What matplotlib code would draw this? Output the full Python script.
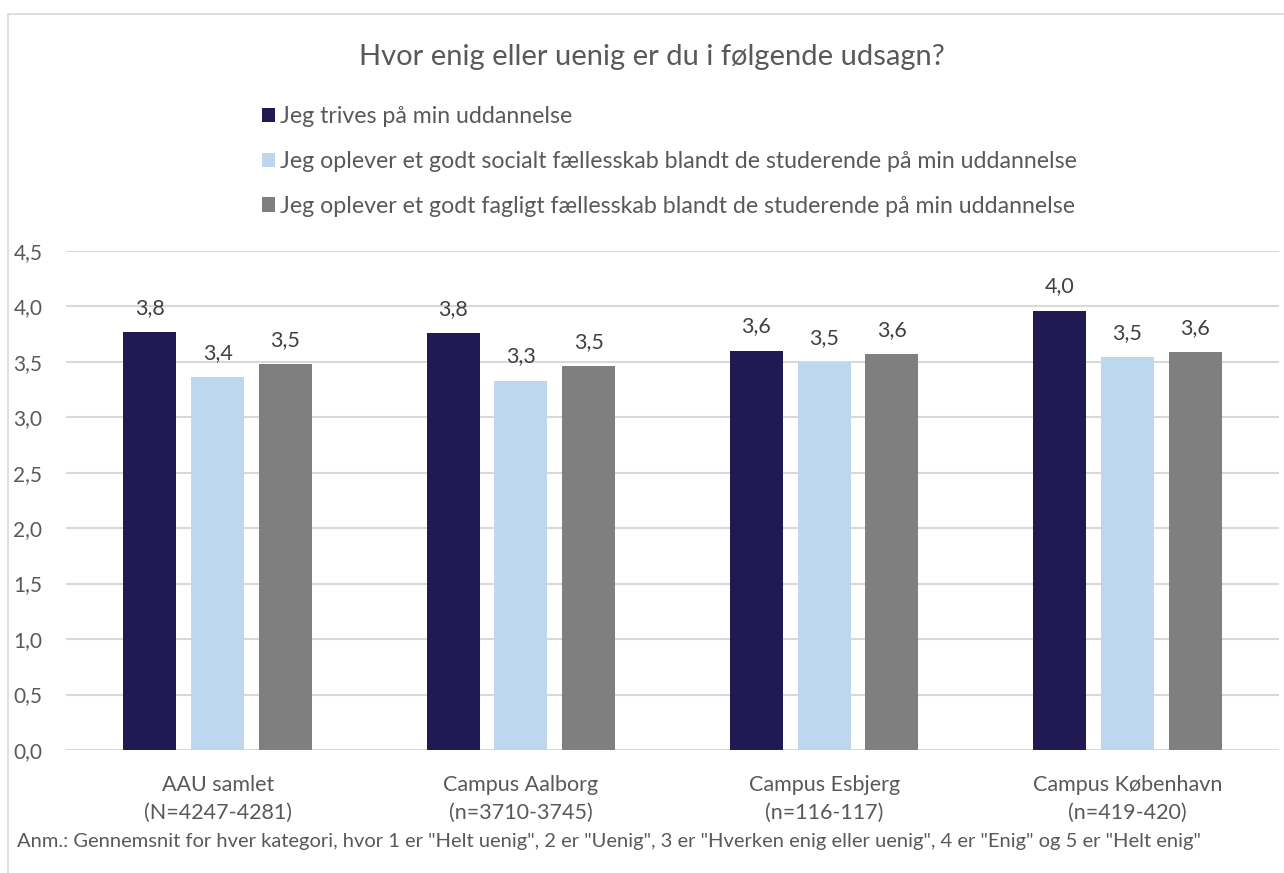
import matplotlib
matplotlib.use("Agg")
import matplotlib.pyplot as plt
from matplotlib.patches import Rectangle
import numpy as np

categories = ["AAU samlet\n(N=4247-4281)", "Campus Aalborg\n(n=3710-3745)",
              "Campus Esbjerg\n(n=116-117)", "Campus København\n(n=419-420)"]
series_names = ["Jeg trives på min uddannelse",
                "Jeg oplever et godt socialt fællesskab blandt de studerende på min uddannelse",
                "Jeg oplever et godt fagligt fællesskab blandt de studerende på min uddannelse"]
trives = [3.77, 3.76, 3.60, 3.96]
socialt = [3.36, 3.33, 3.50, 3.54]
fagligt = [3.48, 3.46, 3.57, 3.59]
yticks = [0.0, 0.5, 1.0, 1.5, 2.0, 2.5, 3.0, 3.5, 4.0, 4.5]
title = "Hvor enig eller uenig er du i følgende udsagn?"
note = ('Anm.: Gennemsnit for hver kategori, hvor 1 er "Helt uenig", 2 er "Uenig", '
        '3 er "Hverken enig eller uenig", 4 er "Enig" og 5 er "Helt enig"')

colors = ["#211A52", "#BDD7EE", "#7F7F7F"]
FONT = ["Lato", "DejaVu Sans"]
plt.rcParams['font.family'] = FONT

W, H = 1284, 873
fig = plt.figure(figsize=(W / 100, H / 100), dpi=100)
fig.patch.set_facecolor("white")

# border (left/top visible)
fig.add_artist(Rectangle((8 / W, -0.2), 2.0, (H - 14) / H + 0.2, transform=fig.transFigure,
                         fill=False, edgecolor="#D9D9D9", linewidth=1.2))

ax_left, ax_right = 66 / W, 1279 / W
ax_bottom, ax_top = (H - 750) / H, (H - 250.7) / H
ax = fig.add_axes([ax_left, ax_bottom, ax_right - ax_left, ax_top - ax_bottom])

x = np.arange(len(categories))
width = 0.1747
step = 0.2232
all_series = [trives, socialt, fagligt]
bars = []
for i, (vals, col, name) in enumerate(zip(all_series, colors, series_names)):
    b = ax.bar(x + (i - 1) * step, vals, width, color=col, label=name, zorder=3)
    bars.append(b)
    for xi, v in zip(x + (i - 1) * step, vals):
        ax.annotate(f"{v:.1f}".replace(".", ","), (xi, v), xytext=(0, 13),
                    textcoords="offset points", ha="center", va="baseline",
                    fontsize=15.5, color="#404040")

ax.set_xlim(-0.5, len(categories) - 0.5)
ax.set_ylim(0, 4.5)
ax.set_yticks(yticks)
ax.set_yticklabels([f"{t:.1f}".replace(".", ",") for t in yticks])
ax.yaxis.grid(True, color="#D9D9D9", linewidth=1.5, zorder=0)
ax.set_axisbelow(True)
for s in ax.spines.values():
    s.set_visible(False)
ax.tick_params(axis="y", length=0, pad=17, labelsize=15, labelcolor="#595959")
ax.set_xticks(x)
ax.set_xticklabels(categories, fontsize=15.5, color="#595959", linespacing=1.5)
ax.tick_params(axis="x", length=0, pad=18)

fig.text(652 / W, 1 - 57 / H, title, ha="center", va="center", fontsize=21, color="#595959")

leg = fig.legend(handles=bars, labels=series_names, loc="upper left",
                 bbox_to_anchor=(262 / W, 1 - 106 / H), frameon=False, fontsize=16.7,
                 labelcolor="#595959", handlelength=0.57, handleheight=0.57,
                 handletextpad=0.2, labelspacing=1.03, borderaxespad=0, borderpad=0)

fig.text(17 / W, 1 - 841 / H, note, ha="left", va="center", fontsize=14.5, color="#595959")

fig.savefig("out.png", dpi=100)
